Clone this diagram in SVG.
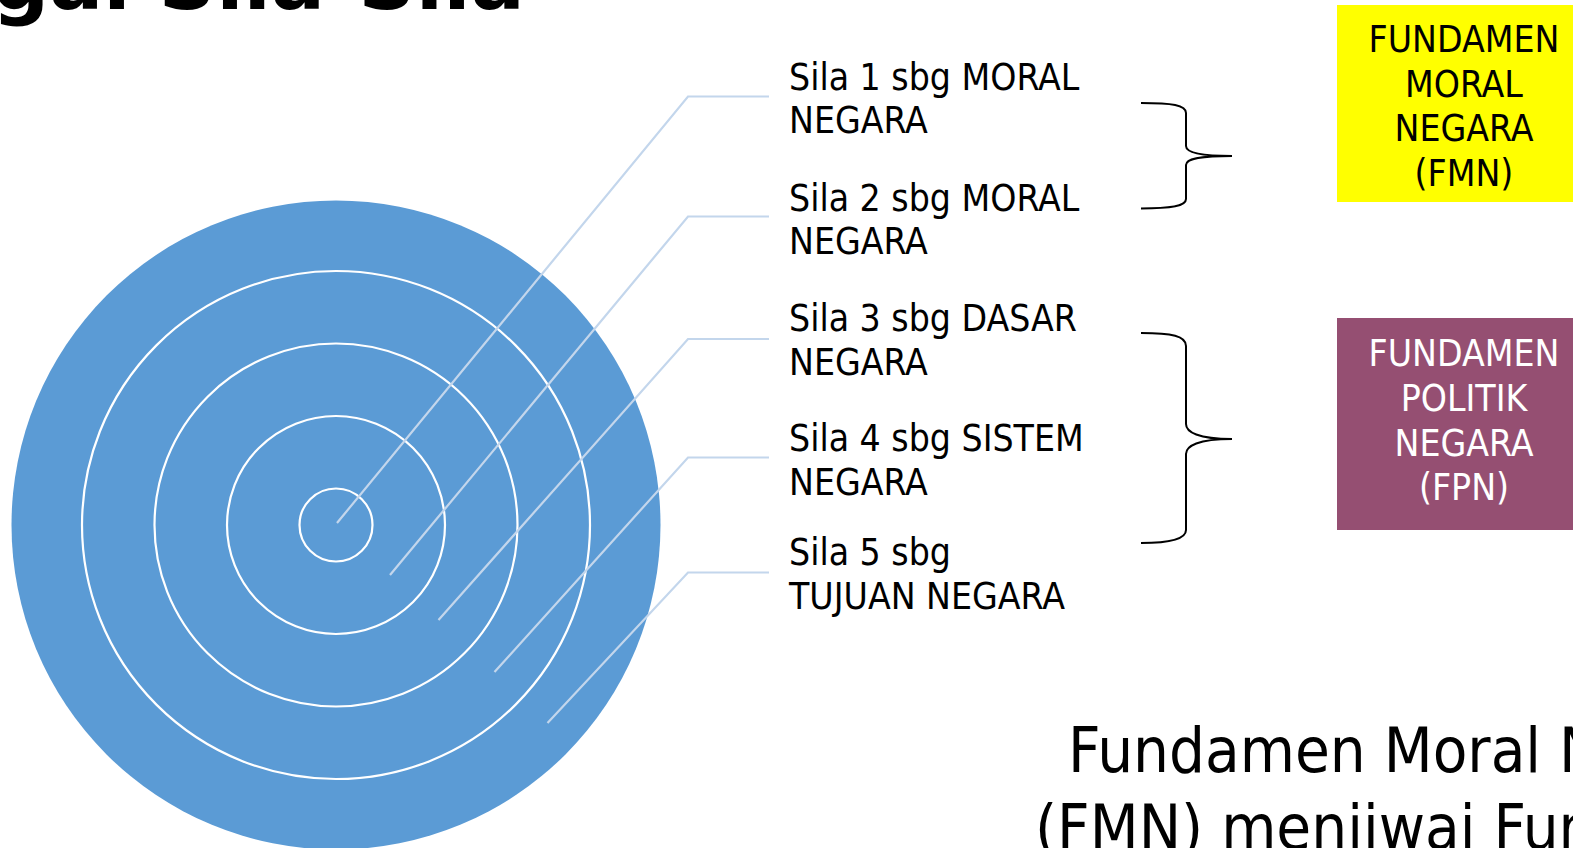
<svg xmlns="http://www.w3.org/2000/svg" width="1573" height="848" viewBox="0 0 1573 848">
<style>
.t{font-family:"DejaVu Sans Condensed","DejaVu Sans",sans-serif;font-stretch:condensed;font-size:37px;fill:#000}
.bx{font-family:"DejaVu Sans Condensed","DejaVu Sans",sans-serif;font-stretch:condensed;font-size:37px;text-anchor:middle}
.big{font-family:"DejaVu Sans Condensed","DejaVu Sans",sans-serif;font-stretch:condensed;font-size:63px;fill:#000}
.title{font-family:"DejaVu Sans",sans-serif;font-weight:bold;font-size:80px;fill:#000}
.ring{fill:none;stroke:#fff;stroke-width:2.2}
.lead{fill:none;stroke:#c3d6ec;stroke-width:2.2}
.brace{fill:none;stroke:#000;stroke-width:2}
</style>
<rect width="1573" height="848" fill="#fff"/>
<text class="title" x="-8" y="9">gai Sila-Sila</text>
<g id="target">
<circle cx="336" cy="525" r="324.5" fill="#5b9bd5"/>
<circle class="ring" cx="336" cy="525" r="254"/>
<circle class="ring" cx="336" cy="525" r="181.5"/>
<circle class="ring" cx="336" cy="525" r="109"/>
<circle class="ring" cx="336" cy="525" r="36.5"/>
</g>
<g id="connectors">
<polyline class="lead" points="337,523 688,96.5 769,96.5"/>
<polyline class="lead" points="390,575 688,216.5 769,216.5"/>
<polyline class="lead" points="438.5,620 688,339 769,339"/>
<polyline class="lead" points="494.5,672 688,457.5 769,457.5"/>
<polyline class="lead" points="547.5,723 688,572.5 769,572.5"/>
<path class="brace" d="M1141,103 C1172,103 1186,105 1186,113 L1186,146 C1186,152 1198,156 1232,156 C1198,156 1186,159 1186,165 L1186,199 C1186,206 1172,208.5 1141,208.5"/>
<path class="brace" d="M1141,333 C1172,333 1186,336 1186,346 L1186,424 C1186,432 1198,439 1232,439 C1198,439 1186,446 1186,454 L1186,530 C1186,538 1172,543 1141,543"/>
</g>
<g id="sila1"><text class="t" x="789" y="89.5">Sila 1 sbg MORAL</text><text class="t" x="789" y="133">NEGARA</text></g>
<g id="sila2"><text class="t" x="789" y="210.5">Sila 2 sbg MORAL</text><text class="t" x="789" y="254">NEGARA</text></g>
<g id="sila3"><text class="t" x="789" y="331">Sila 3 sbg DASAR</text><text class="t" x="789" y="375">NEGARA</text></g>
<g id="sila4"><text class="t" x="789" y="450.5">Sila 4 sbg SISTEM</text><text class="t" x="789" y="494.5">NEGARA</text></g>
<g id="sila5"><text class="t" x="789" y="565">Sila 5 sbg</text><text class="t" x="789" y="609">TUJUAN NEGARA</text></g>
<g id="fmn">
<rect x="1337" y="5" width="240" height="197" fill="#ffff00"/>
<text class="bx" fill="#000"><tspan x="1464" y="52">FUNDAMEN</tspan><tspan x="1464" y="97">MORAL</tspan><tspan x="1464" y="141">NEGARA</tspan><tspan x="1464" y="186">(FMN)</tspan></text>
</g>
<g id="fpn">
<rect x="1337" y="318" width="240" height="212" fill="#954f72"/>
<text class="bx" fill="#fff"><tspan x="1464" y="366">FUNDAMEN</tspan><tspan x="1464" y="411">POLITIK</tspan><tspan x="1464" y="456">NEGARA</tspan><tspan x="1464" y="500">(FPN)</tspan></text>
</g>
<g id="caption">
<text class="big" x="1068" y="772">Fundamen Moral Negara</text>
<text class="big" x="1035" y="849">(FMN) menjiwai Fundamen Politik Negara (FPN)</text>
</g>
</svg>
